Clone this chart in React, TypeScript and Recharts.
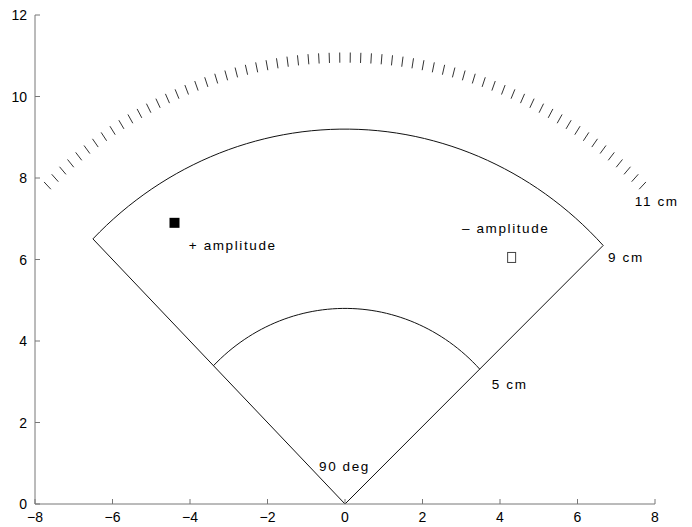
import React from "react";
import { ComposedChart, Line, Scatter, XAxis, YAxis, ReferenceDot } from "recharts";

const xTicks = [-8, -6, -4, -2, 0, 2, 4, 6, 8];
const yTicks = [0, 2, 4, 6, 8, 10, 12];

// wedge geometry, in plot units / degrees
const wedgeAngles = [43.6, 135];
const innerRadius = 4.8;
const outerRadius = 9.2;
const scaleAngles = [45.5, 134.5];
const scaleRadius = [10.83, 11.08];
const scaleTickCount = 64;

const plusPoint = [{ x: -4.4, y: 6.9 }];
const minusPoint = [{ x: 4.3, y: 6.05 }];

const labelText = ["+ amplitude", "\u2013 amplitude", "9 cm", "11 cm", "5 cm", "90 deg"];
const labelX = [-4.03, 3.02, 6.79, 7.48, 3.79, -0.67];
const labelY = [6.36, 6.77, 6.06, 7.44, 2.94, 0.93];

const rad = (d: number) => (d * Math.PI) / 180;
const polar = (r: number, deg: number) => ({ x: r * Math.cos(rad(deg)), y: r * Math.sin(rad(deg)) });

function arcPoints(r: number, steps = 60) {
  const [a0, a1] = wedgeAngles;
  const pts = [];
  for (let i = 0; i <= steps; i++) pts.push(polar(r, a0 + ((a1 - a0) * i) / steps));
  return pts;
}

const innerArc = arcPoints(innerRadius);
const outerArc = arcPoints(outerRadius);
const wedgeEdges = [polar(outerRadius, wedgeAngles[1]), { x: 0, y: 0 }, polar(outerRadius, wedgeAngles[0])];

const scaleTicks: Array<{ x: number; y: number | null }> = [];
for (let i = 0; i < scaleTickCount; i++) {
  const a = scaleAngles[0] + ((scaleAngles[1] - scaleAngles[0]) * i) / (scaleTickCount - 1);
  const p0 = polar(scaleRadius[0], a);
  const p1 = polar(scaleRadius[1], a);
  scaleTicks.push(p0, p1, { x: p1.x, y: null });
}

const axisColor = "#777";
const font = "'Liberation Sans', Arial, sans-serif";
const fmt = (v: number) => (v < 0 ? "\u2212" + Math.abs(v) : String(v));

const XTick = ({ x, y, payload }: any) => (
  <g>
    <line x1={x} x2={x} y1={y} y2={y - 5} stroke={axisColor} />
    <text x={x} y={y + 18} textAnchor="middle" fontSize={14} fill="#000" fontFamily={font}>
      {fmt(payload.value)}
    </text>
  </g>
);

const YTick = ({ x, y, payload }: any) => (
  <g>
    <line x1={x} x2={x + 5} y1={y} y2={y} stroke={axisColor} />
    <text x={x - 8} y={y + 5} textAnchor="end" fontSize={14} fill="#000" fontFamily={font}>
      {fmt(payload.value)}
    </text>
  </g>
);

export default function App() {
  return (
    <div style={{ width: 684, height: 519, background: "#fff" }}>
      <ComposedChart width={684} height={519} margin={{ top: 7, right: 37, bottom: 0, left: 0 }}>
        <XAxis
          dataKey="x"
          type="number"
          domain={[-8, 8]}
          ticks={xTicks}
          interval={0}
          height={23}
          tickSize={0}
          tickMargin={0}
          tickLine={false}
          axisLine={{ stroke: axisColor }}
          tick={<XTick />}
          allowDataOverflow
        />
        <YAxis
          dataKey="y"
          type="number"
          domain={[0, 12]}
          ticks={yTicks}
          interval={0}
          width={27}
          tickSize={0}
          tickMargin={0}
          tickLine={false}
          axisLine={{ stroke: axisColor }}
          tick={<YTick />}
          allowDataOverflow
        />
        <Line data={wedgeEdges} dataKey="y" type="linear" stroke="#111" strokeWidth={1} dot={false} isAnimationActive={false} />
        <Line data={outerArc} dataKey="y" type="linear" stroke="#111" strokeWidth={1} dot={false} isAnimationActive={false} />
        <Line data={innerArc} dataKey="y" type="linear" stroke="#111" strokeWidth={1} dot={false} isAnimationActive={false} />
        <Line data={scaleTicks} dataKey="y" type="linear" stroke="#333" strokeWidth={1} dot={false} connectNulls={false} isAnimationActive={false} />
        <Scatter
          data={plusPoint}
          dataKey="y"
          isAnimationActive={false}
          shape={(p: any) => <rect x={p.cx - 5} y={p.cy - 5} width={10} height={10} fill="#000" />}
        />
        <Scatter
          data={minusPoint}
          dataKey="y"
          isAnimationActive={false}
          shape={(p: any) => <rect x={p.cx - 4} y={p.cy - 5} width={8} height={10} fill="#fff" stroke="#444" />}
        />
        {labelText.map((t, i) => (
          <ReferenceDot
            key={t}
            x={labelX[i]}
            y={labelY[i]}
            r={0}
            shape={(p: any) => (
              <text x={p.cx} y={p.cy} dy={5} fontSize={13.5} letterSpacing={1.6} fill="#000" fontFamily={font}>
                {t}
              </text>
            )}
          />
        ))}
      </ComposedChart>
    </div>
  );
}
